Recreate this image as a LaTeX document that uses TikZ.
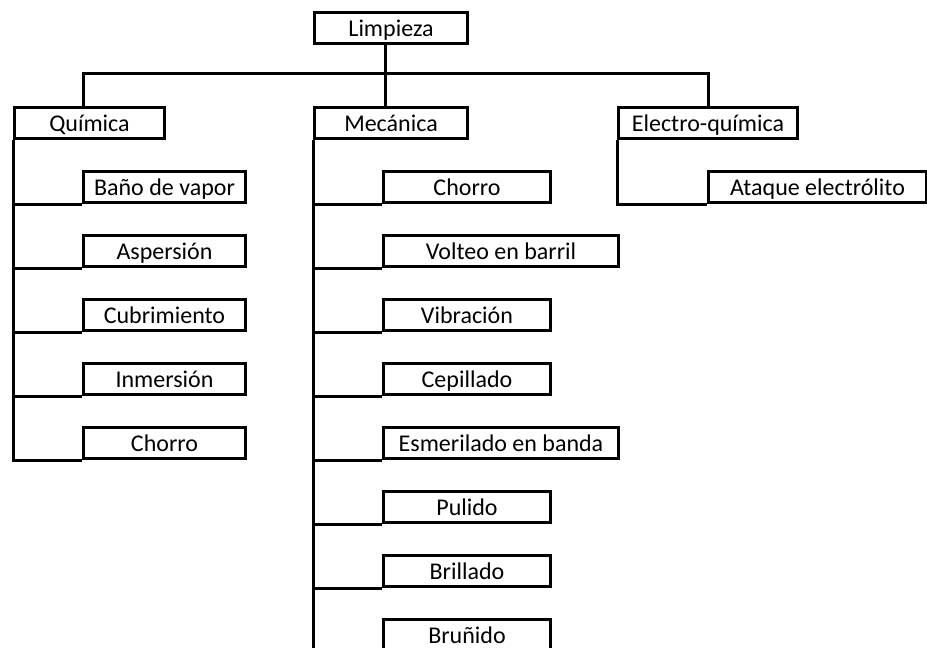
\documentclass[tikz,border=0pt]{standalone}
\usepackage{fontspec}
\setmainfont{Carlito}
\begin{document}
\begin{tikzpicture}[x=0.75pt,y=-0.75pt,
  box/.style={draw, line width=2.25pt, inner sep=0pt, anchor=north west,
    minimum height=23.25pt, text height=13pt, text depth=0pt,
    font=\fontsize{18}{21}\selectfont},
  conn/.style={line width=2.25pt},
  wA/.style={minimum width=114.75pt},
  wQ/.style={minimum width=112.5pt},
  wE/.style={minimum width=134.25pt},
  wQC/.style={minimum width=121.5pt},
  wMS/.style={minimum width=125.25pt},
  wML/.style={minimum width=176.25pt},
  wAT/.style={minimum width=163.5pt}]
\useasboundingbox (0,0) rectangle (927,647);
% top
\node[box,wA] (limp) at (313,11) {Limpieza};
% level 1
\node[box,wQ] (qui) at (13,106) {Química};
\node[box,wA] (mec) at (313,106) {Mecánica};
\node[box,wE] (ele) at (617,106) {Electro-química};
% Química children
\node[box,wQC] (q1) at (82,170) {Baño de vapor};
\node[box,wQC] (q2) at (82,234) {Aspersión};
\node[box,wQC] (q3) at (82,298) {Cubrimiento};
\node[box,wQC] (q4) at (82,362) {Inmersión};
\node[box,wQC] (q5) at (82,426) {Chorro};
% Mecánica children
\node[box,wMS] (m1) at (382,170) {Chorro};
\node[box,wML] (m2) at (382,234) {Volteo en barril};
\node[box,wMS] (m3) at (382,298) {Vibración};
\node[box,wMS] (m4) at (382,362) {Cepillado};
\node[box,wML] (m5) at (382,426) {Esmerilado en banda};
\node[box,wMS] (m6) at (382,490) {Pulido};
\node[box,wMS] (m7) at (382,554) {Brillado};
\node[box,wMS] (m8) at (382,618) {Bruñido};
% Electro-química child
\node[box,wAT] (e1) at (707,170) {Ataque electrólito};
% connectors
\draw[conn] ([xshift=-4.5pt]limp.south) -- ([xshift=-4.5pt]mec.north);
\draw[conn] ([xshift=-4.5pt]qui.north) -- ++(0,-33) -| (ele.north);
\foreach \c in {q1,q2,q3,q4,q5}{\draw[conn] (qui.south west) |- (\c.south west);}
\foreach \c in {m1,m2,m3,m4,m5,m6,m7,m8}{\draw[conn] (mec.south west) |- (\c.south west);}
\draw[conn] (ele.south west) |- (e1.south west);
\end{tikzpicture}
\end{document}
